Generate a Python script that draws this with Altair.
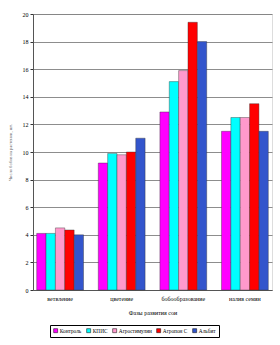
import altair as alt
import pandas as pd

phases = ["ветвление", "цветение", "бобообразование", "налив семян"]
series = ["Контроль", "КПИС", "Агростимулин", "Агропон С", "Альбит"]
colors = ["#FF00FF", "#00FFFF", "#FF99CC", "#FF0000", "#3355CC"]
kontrol = [4.1, 9.2, 12.9, 11.5]
kpis = [4.1, 9.9, 15.1, 12.5]
agrostim = [4.5, 9.8, 15.9, 12.5]
agropon = [4.35, 10.0, 19.4, 13.5]
albit = [4.0, 11.0, 18.0, 11.5]
y_ticks = list(range(0, 21, 2))

rows = []
for s, vals in zip(series, [kontrol, kpis, agrostim, agropon, albit]):
    for p, v in zip(phases, vals):
        rows.append({"phase": p, "series": s, "value": v})
df = pd.DataFrame(rows)

FONT = "Liberation Serif"

bars = alt.Chart(df).mark_bar(stroke="#333333", strokeWidth=0.4).encode(
    x=alt.X("phase:N", sort=phases,
            scale=alt.Scale(paddingInner=0.24, paddingOuter=0.06),
            axis=alt.Axis(title="Фазы развития сои", labelAngle=0, labelFontSize=6,
                          labelFont=FONT, titleFont=FONT, titleFontSize=6,
                          titleFontWeight="normal", labelPadding=5, titlePadding=8,
                          ticks=False, domainColor="#555555", labelColor="#000000")),
    xOffset=alt.XOffset("series:N", sort=series),
    y=alt.Y("value:Q", scale=alt.Scale(domain=[0, 20]),
            axis=alt.Axis(values=y_ticks, title="Число бобов на растении, шт.",
                          labelFontSize=6, labelFont=FONT, titleFont=FONT,
                          titleFontSize=4.5, titleFontWeight="normal", titleColor="#666666",
                          titlePadding=10, tickSize=3, tickColor="#333333",
                          gridColor="#707070", gridWidth=0.8, domainColor="#555555",
                          labelColor="#000000")),
    color=alt.Color("series:N", sort=series,
                    scale=alt.Scale(domain=series, range=colors),
                    legend=alt.Legend(title=None, orient="none", direction="horizontal",
                                      legendX=17, legendY=311, symbolType="square",
                                      symbolSize=16, symbolStrokeColor="#000000",
                                      symbolStrokeWidth=0.5, labelFontSize=5.3,
                                      labelFont=FONT, columnPadding=3, symbolOffset=0,
                                      labelOffset=1.5, padding=3, strokeColor="#000000",
                                      fillColor="#FFFFFF")),
)

chart = bars.properties(
    width=239, height=276,
    autosize=alt.AutoSizeParams(type="none"),
    padding={"left": 33, "top": 14, "right": 8, "bottom": 55},
).configure_view(fill="#C0C0C0", stroke="#888888", strokeWidth=1.5
).configure(background="#FFFFFF")

chart.save("out.html", embed_options={"renderer": "svg", "actions": False})
